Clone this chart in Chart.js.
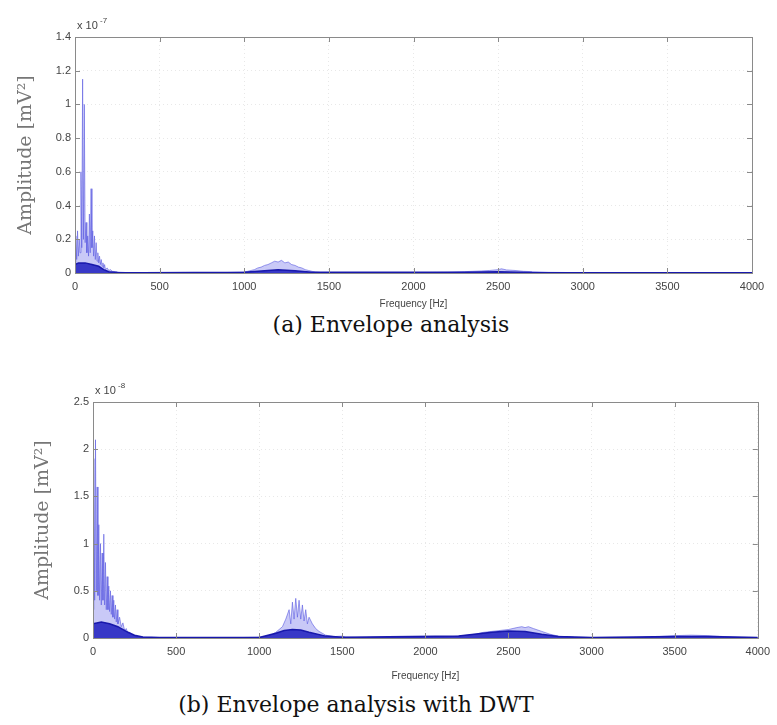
<!DOCTYPE html>
<html>
<head>
<meta charset="utf-8">
<script src="https://cdn.jsdelivr.net/npm/chart.js@4.4.1/dist/chart.umd.min.js"></script>
<style>
  html,body{margin:0;padding:0;background:#fff;width:777px;height:725px;overflow:hidden;}
  .wrap{position:absolute;left:0;width:777px;}
  .cap{position:absolute;text-align:center;font-family:"DejaVu Serif","Liberation Serif",serif;font-size:22px;color:#111;white-space:nowrap;}
</style>
</head>
<body>
<div class="wrap" style="top:0;height:310px;"><canvas id="c1" width="777" height="310"></canvas></div>
<div class="cap" style="top:312px;left:191px;width:400px;">(a) Envelope analysis</div>
<div class="wrap" style="top:360px;height:322px;"><canvas id="c2" width="777" height="322"></canvas></div>
<div class="cap" style="top:692px;left:156px;width:400px;">(b) Envelope analysis with DWT</div>
<script>
// ---------- Data (a) Envelope analysis, amplitude in units of 1e-7 ----------
const freqA = [0,5,10,15,20,25,30,35,40,45,50,55,60,65,70,75,80,85,90,95,100,105,110,115,120,125,130,135,140,145,150,155,160,165,170,175,180,190,200,210,220,240,260,300,500,900,1000,1020,1040,1060,1080,1100,1120,1140,1160,1180,1200,1220,1240,1260,1280,1300,1320,1340,1360,1380,1400,1420,1450,1600,2000,2200,2300,2350,2400,2450,2500,2520,2550,2600,2650,2700,2800,3000,4000];
const ampA  = [0.05,0.22,0.08,0.25,0.10,0.20,0.12,0.60,0.15,1.15,0.20,1.00,0.18,0.30,0.12,0.22,0.10,0.35,0.12,0.50,0.15,0.25,0.10,0.22,0.08,0.18,0.07,0.12,0.06,0.10,0.05,0.08,0.04,0.06,0.03,0.05,0.02,0.03,0.015,0.02,0.01,0.008,0.005,0.003,0.002,0.003,0.006,0.01,0.015,0.02,0.03,0.035,0.045,0.05,0.06,0.07,0.065,0.075,0.06,0.065,0.05,0.045,0.035,0.03,0.02,0.015,0.01,0.006,0.003,0.002,0.002,0.004,0.008,0.01,0.012,0.015,0.02,0.025,0.018,0.015,0.01,0.008,0.004,0.002,0.002];
const freqAbase = [0,20,60,100,140,170,200,250,400,1000,1100,1200,1300,1400,2300,2500,2700,4000];
const ampAbase  = [0.05,0.06,0.06,0.05,0.04,0.02,0.008,0.003,0.002,0.004,0.012,0.02,0.014,0.005,0.004,0.008,0.003,0.001];
const yTicksA = [0,0.2,0.4,0.6,0.8,1,1.2,1.4];

// ---------- Data (b) Envelope analysis with DWT, amplitude in units of 1e-8 ----------
const freqB = [0,5,10,15,20,25,30,35,40,45,50,55,60,65,70,75,80,85,90,95,100,105,110,115,120,125,130,135,140,145,150,160,170,180,190,200,210,220,240,260,300,400,600,900,1000,1050,1080,1100,1120,1140,1160,1180,1190,1200,1210,1220,1230,1240,1250,1260,1270,1280,1290,1300,1320,1340,1360,1380,1400,1450,1500,1520,1600,2000,2100,2200,2300,2350,2400,2450,2500,2550,2580,2600,2620,2650,2700,2750,2800,2900,3000,3300,3400,3500,3600,3700,3800,3900,4000];
const ampB  = [0.30,1.90,0.40,2.10,0.50,1.60,0.45,1.20,0.40,1.00,0.35,0.90,0.40,1.10,0.35,0.80,0.30,0.65,0.30,0.55,0.28,0.50,0.25,0.45,0.22,0.40,0.20,0.35,0.17,0.30,0.15,0.22,0.12,0.16,0.08,0.10,0.05,0.06,0.03,0.015,0.008,0.005,0.004,0.005,0.008,0.02,0.04,0.06,0.09,0.12,0.20,0.30,0.15,0.38,0.20,0.42,0.22,0.40,0.20,0.35,0.18,0.30,0.15,0.22,0.15,0.10,0.07,0.05,0.03,0.015,0.02,0.008,0.004,0.004,0.008,0.02,0.04,0.06,0.07,0.08,0.09,0.11,0.12,0.11,0.12,0.10,0.07,0.04,0.02,0.008,0.005,0.006,0.015,0.025,0.03,0.025,0.015,0.008,0.005];
const freqBbase = [0,50,100,150,200,250,300,400,1000,1100,1150,1200,1250,1300,1400,1500,2200,2400,2500,2600,2700,2800,3000,3500,3700,4000];
const ampBbase  = [0.15,0.17,0.15,0.12,0.07,0.03,0.01,0.005,0.006,0.05,0.08,0.09,0.085,0.06,0.02,0.008,0.02,0.06,0.075,0.07,0.04,0.015,0.005,0.015,0.015,0.004];
const yTicksB = [0,0.5,1,1.5,2,2.5];

const xTicks = [0,500,1000,1500,2000,2500,3000,3500,4000];

function pts(xs, ys){ return xs.map((x,i)=>({x:x,y:ys[i]})); }

const boxPlugin = {
  id:'box',
  afterDatasetsDraw(chart, args, opts){
    const a = chart.chartArea, ctx = chart.ctx;
    ctx.save();
    ctx.strokeStyle = '#8a8a8a';
    ctx.lineWidth = 1;
    ctx.strokeRect(Math.round(a.left)+0.5, Math.round(a.top)+0.5, Math.round(a.right-a.left), Math.round(a.bottom-a.top));
    const xs = chart.scales.x, ys = chart.scales.y;
    ctx.beginPath();
    xTicks.forEach(v=>{
      const px = Math.round(xs.getPixelForValue(v))+0.5;
      ctx.moveTo(px,a.top); ctx.lineTo(px,a.top+5);
      ctx.moveTo(px,a.bottom); ctx.lineTo(px,a.bottom-5);
    });
    opts.yt.forEach(v=>{
      const py = Math.round(ys.getPixelForValue(v))+0.5;
      ctx.moveTo(a.right,py); ctx.lineTo(a.right-5,py);
      ctx.moveTo(a.left,py); ctx.lineTo(a.left+5,py);
    });
    ctx.stroke();
    ctx.fillStyle = '#444';
    ctx.font = '11px "Liberation Sans", Arial, sans-serif';
    ctx.textBaseline = 'alphabetic';
    ctx.fillText('x 10', a.left+2, a.top-8);
    ctx.font = '8px "Liberation Sans", Arial, sans-serif';
    ctx.fillText(opts.exp, a.left+25, a.top-14);
    ctx.restore();
  }
};

function makeChart(id, fx, fy, bx, by, ymax, yt, exp, pad, yW, xH, titleSize, titlePad){
  new Chart(document.getElementById(id), {
    type:'line',
    data:{datasets:[
      {data:pts(bx,by), borderColor:'rgba(20,20,170,0.95)', backgroundColor:'rgba(30,30,190,0.85)', borderWidth:1.5, fill:'origin', pointRadius:0, tension:0},
      {data:pts(fx,fy), borderColor:'rgba(90,90,225,0.6)', backgroundColor:'rgba(120,120,235,0.4)', borderWidth:1, fill:'origin', pointRadius:0, tension:0}
    ]},
    options:{
      responsive:false, animation:false,
      layout:{padding:pad},
      plugins:{legend:{display:false}, tooltip:{enabled:false}, box:{yt:yt, exp:exp}},
      scales:{
        x:{type:'linear', min:0, max:4000,
           afterBuildTicks(s){ s.ticks = xTicks.map(v=>({value:v})); },
           afterFit(s){ s.height = xH; },
           grid:{color:'rgba(0,0,0,0.09)', drawTicks:false, tickLength:0},
           border:{display:false, dash:[1,3]},
           ticks:{color:'#444', font:{family:'"Liberation Sans", Arial, sans-serif', size:11}, padding:7, maxRotation:0,
                  callback:v=>String(v)},
           title:{display:true, text:'Frequency [Hz]', color:'#444', font:{family:'"Liberation Sans", Arial, sans-serif', size:10}, padding:{top:0,bottom:0}}
        },
        y:{type:'linear', min:0, max:ymax,
           afterBuildTicks(s){ s.ticks = yt.map(v=>({value:v})); },
           afterFit(s){ s.width = yW; },
           grid:{color:'rgba(0,0,0,0.09)', drawTicks:false, tickLength:0},
           border:{display:false, dash:[1,3]},
           ticks:{color:'#444', font:{family:'"Liberation Sans", Arial, sans-serif', size:11}, padding:4,
                  callback:v=>String(v)},
           title:{display:true, text:'Amplitude [mV²]', color:'#777', font:{family:'"DejaVu Serif","Liberation Serif",serif', size:titleSize}, padding:titlePad}
        }
      }
    },
    plugins:[boxPlugin]
  });
}

makeChart('c1', freqA, ampA, freqAbase, ampAbase, 1.4, yTicksA, '-7', {left:15,right:25,top:37,bottom:0}, 60, 37, 19, {top:0,bottom:4});
makeChart('c2', freqB, ampB, freqBbase, ampBbase, 2.5, yTicksB, '-8', {left:32,right:19,top:42,bottom:0}, 61, 44, 19, {top:0,bottom:4});
</script>
</body>
</html>
